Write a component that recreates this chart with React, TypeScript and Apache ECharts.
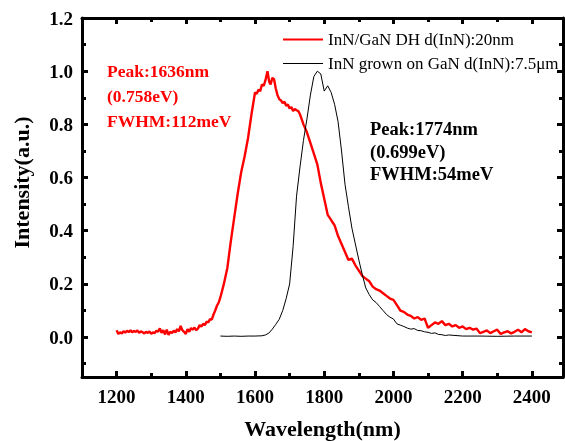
import React, { useEffect, useRef } from "react";
import * as echarts from "echarts";

// Red: InN/GaN DH d(InN):20nm  (wavelength nm, intensity a.u.)
const redWavelengths: number[] = [
  1200, 1205, 1210, 1215, 1220, 1225, 1230, 1235, 1240, 1245,
  1250, 1255, 1260, 1265, 1270, 1275, 1280, 1285, 1290, 1295,
  1300, 1305, 1310, 1315, 1320, 1325, 1330, 1335, 1340, 1345,
  1350, 1355, 1360, 1365, 1370, 1375, 1380, 1385, 1390, 1395,
  1400, 1405, 1410, 1415, 1420, 1425, 1430, 1435, 1440, 1445,
  1450, 1455, 1460, 1465, 1470, 1475, 1480, 1485, 1490, 1495,
  1500, 1510, 1520, 1530, 1540, 1550, 1560, 1570, 1580, 1590,
  1600, 1605, 1610, 1615, 1620, 1625, 1630, 1636, 1641, 1645,
  1650, 1655, 1660, 1665, 1670, 1675, 1680, 1685, 1690, 1695,
  1700, 1705, 1710, 1715, 1720, 1725, 1730, 1740, 1750, 1760,
  1770, 1780, 1790, 1800, 1810, 1815, 1820, 1825, 1830, 1840,
  1850, 1860, 1870, 1880, 1890, 1900, 1910, 1920, 1930, 1940,
  1950, 1960, 1970, 1980, 1990, 2000, 2010, 2020, 2030, 2040,
  2050, 2060, 2070, 2080, 2090, 2100, 2110, 2120, 2130, 2140,
  2150, 2160, 2170, 2180, 2190, 2200, 2210, 2220, 2230, 2240,
  2250, 2260, 2270, 2280, 2290, 2300, 2310, 2320, 2330, 2340,
  2350, 2360, 2370, 2380, 2390, 2400,
];
const redIntensity: number[] = [
  0.026, 0.012, 0.018, 0.014, 0.022, 0.017, 0.024, 0.019, 0.026, 0.018,
  0.023, 0.020, 0.025, 0.016, 0.022, 0.018, 0.014, 0.020, 0.016, 0.021,
  0.012, 0.018, 0.015, 0.024, 0.020, 0.033, 0.016, 0.026, 0.010, 0.028,
  0.008, 0.020, 0.015, 0.024, 0.018, 0.030, 0.022, 0.042, 0.026, 0.020,
  0.012, 0.030, 0.020, 0.034, 0.028, 0.036, 0.026, 0.032, 0.045, 0.040,
  0.050, 0.045, 0.058, 0.055, 0.068, 0.066, 0.085, 0.100, 0.118, 0.130,
  0.150, 0.200, 0.260, 0.360, 0.450, 0.540, 0.620, 0.680, 0.750, 0.840,
  0.920, 0.915, 0.930, 0.925, 0.950, 0.945, 0.965, 1.000, 0.960, 0.950,
  0.975, 0.970, 0.935, 0.910, 0.895, 0.890, 0.880, 0.885, 0.870, 0.875,
  0.860, 0.865, 0.850, 0.858, 0.853, 0.850, 0.838, 0.800, 0.770, 0.730,
  0.690, 0.650, 0.580, 0.520, 0.460, 0.450, 0.440, 0.430, 0.420, 0.380,
  0.350, 0.320, 0.290, 0.295, 0.270, 0.250, 0.230, 0.220, 0.210, 0.190,
  0.180, 0.175, 0.165, 0.155, 0.145, 0.140, 0.120, 0.100, 0.095, 0.085,
  0.080, 0.070, 0.075, 0.065, 0.070, 0.035, 0.045, 0.055, 0.050, 0.060,
  0.045, 0.050, 0.040, 0.045, 0.035, 0.040, 0.030, 0.035, 0.028, 0.032,
  0.015, 0.020, 0.025, 0.015, 0.022, 0.028, 0.012, 0.018, 0.022, 0.014,
  0.020, 0.028, 0.018, 0.030, 0.022, 0.018,
];

// Black: InN grown on GaN d(InN):7.5μm
const blackWavelengths: number[] = [
  1500, 1520, 1540, 1560, 1580, 1600, 1620, 1630, 1640, 1650,
  1660, 1670, 1680, 1690, 1700, 1710, 1720, 1730, 1740, 1750,
  1760, 1770, 1780, 1790, 1800, 1810, 1820, 1830, 1840, 1850,
  1860, 1870, 1880, 1890, 1900, 1910, 1920, 1930, 1940, 1950,
  1960, 1970, 1980, 1990, 2000, 2010, 2020, 2030, 2040, 2050,
  2060, 2070, 2080, 2090, 2100, 2110, 2120, 2130, 2140, 2150,
  2160, 2200, 2250, 2300, 2350, 2400,
];
const blackIntensity: number[] = [
  0.004, 0.003, 0.004, 0.003, 0.004, 0.004, 0.005, 0.008, 0.015, 0.030,
  0.048, 0.067, 0.100, 0.145, 0.200, 0.340, 0.530, 0.640, 0.740, 0.820,
  0.910, 0.980, 1.000, 0.990, 0.925, 0.945, 0.920, 0.875, 0.810, 0.700,
  0.575, 0.490, 0.410, 0.350, 0.290, 0.235, 0.185, 0.160, 0.140, 0.130,
  0.115, 0.100, 0.085, 0.075, 0.068, 0.050, 0.045, 0.040, 0.034, 0.030,
  0.032, 0.025, 0.024, 0.020, 0.018, 0.014, 0.016, 0.010, 0.009, 0.006,
  0.008, 0.004, 0.004, 0.003, 0.004, 0.004,
];

const seriesNames: string[] = [
  "InN/GaN DH d(InN):20nm",
  "InN grown on GaN d(InN):7.5\u03bcm",
];

const xMajorTicks: number[] = [1200, 1400, 1600, 1800, 2000, 2200, 2400];
const xMinorTicks: number[] = [1300, 1500, 1700, 1900, 2100, 2300];
const yMajorTicks: number[] = [0, 0.2, 0.4, 0.6, 0.8, 1.0, 1.2];
const yMinorTicks: number[] = [-0.1, 0.1, 0.3, 0.5, 0.7, 0.9, 1.1];

const redNote: string[] = ["Peak:1636nm", "(0.758eV)", "FWHM:112meV"];
const blackNote: string[] = ["Peak:1774nm", "(0.699eV)", "FWHM:54meV"];

const FONT = "Liberation Serif";
const X_MIN = 1100;
const X_MAX = 2490;
const Y_MIN = -0.15;
const Y_MAX = 1.2;

function xAxisDef(position: string, ticks: number[], len: number, labels: boolean, line: boolean, name?: string) {
  const ax: any = {
    type: "value",
    position,
    min: X_MIN,
    max: X_MAX,
    axisLine: { show: line, onZero: false, lineStyle: { color: "#000", width: 3 } },
    axisTick: { show: true, inside: true, length: len, customValues: ticks, lineStyle: { color: "#000", width: 3 } },
    axisLabel: labels
      ? { show: true, customValues: ticks, formatter: (v: number) => String(v), color: "#000", fontFamily: FONT, fontWeight: "bold", fontSize: 19, margin: 10 }
      : { show: false },
    splitLine: { show: false },
  };
  if (name) {
    ax.name = name;
    ax.nameLocation = "middle";
    ax.nameGap = 40;
    ax.nameTextStyle = { color: "#000", fontFamily: FONT, fontWeight: "bold", fontSize: 22 };
  }
  return ax;
}

function yAxisDef(position: string, ticks: number[], len: number, labels: boolean, line: boolean, name?: string) {
  const ax: any = {
    type: "value",
    position,
    min: Y_MIN,
    max: Y_MAX,
    axisLine: { show: line, onZero: false, lineStyle: { color: "#000", width: 3 } },
    axisTick: { show: true, inside: true, length: len, customValues: ticks, lineStyle: { color: "#000", width: 3 } },
    axisLabel: labels
      ? { show: true, customValues: ticks, formatter: (v: number) => v.toFixed(1), color: "#000", fontFamily: FONT, fontWeight: "bold", fontSize: 19, margin: 9 }
      : { show: false },
    splitLine: { show: false },
  };
  if (name) {
    ax.name = name;
    ax.nameLocation = "middle";
    ax.nameGap = 50;
    ax.nameTextStyle = { color: "#000", fontFamily: FONT, fontWeight: "bold", fontSize: 22, padding: [0, 0, 0, 30] };
  }
  return ax;
}

export default function App() {
  const ref = useRef<HTMLDivElement>(null);

  useEffect(() => {
    if (!ref.current) return;
    const chart = echarts.init(ref.current, undefined, { renderer: "svg" });
    const red = redWavelengths.map((w, i) => [w, redIntensity[i]]);
    const black = blackWavelengths.map((w, i) => [w, blackIntensity[i]]);

    chart.setOption({
      animation: false,
      grid: { left: 82, top: 18, right: 2, bottom: 64, outerBoundsMode: "none" },
      xAxis: [
        xAxisDef("bottom", xMajorTicks, 6, true, true, "Wavelength(nm)"),
        xAxisDef("bottom", xMinorTicks, 4, false, false),
        xAxisDef("top", xMajorTicks, 6, false, true),
        xAxisDef("top", xMinorTicks, 4, false, false),
      ],
      yAxis: [
        yAxisDef("left", yMajorTicks, 6, true, true, "Intensity(a.u.)"),
        yAxisDef("left", yMinorTicks, 4, false, false),
        yAxisDef("right", yMajorTicks, 6, false, true),
        yAxisDef("right", yMinorTicks, 4, false, false),
      ],
      legend: {
        orient: "vertical",
        left: 278,
        top: 26,
        itemWidth: 40,
        itemHeight: 14,
        itemGap: 7,
        textStyle: { color: "#000", fontFamily: FONT, fontSize: 17 },
        data: [
          { name: seriesNames[0], icon: "path://M0,0L40,0L40,2L0,2Z" },
          { name: seriesNames[1], icon: "path://M0,0L40,0L40,1L0,1Z" },
        ],
      },
      series: [
        {
          name: seriesNames[0],
          type: "line",
          data: red,
          xAxisIndex: 0,
          yAxisIndex: 0,
          symbol: "none",
          lineStyle: { color: "#ff0000", width: 2.4 },
          itemStyle: { color: "#ff0000" },
        },
        {
          name: seriesNames[1],
          type: "line",
          data: black,
          xAxisIndex: 0,
          yAxisIndex: 0,
          symbol: "none",
          lineStyle: { color: "#000", width: 1 },
          itemStyle: { color: "#000" },
        },
      ],
      graphic: [
        {
          type: "text",
          left: 107,
          top: 58,
          style: { text: redNote.join("\n"), fill: "#ff0000", font: `bold 17.5px "${FONT}"`, lineHeight: 25 },
        },
        {
          type: "text",
          left: 370,
          top: 118,
          style: { text: blackNote.join("\n"), fill: "#000", font: `bold 18.5px "${FONT}"`, lineHeight: 22.5 },
        },
      ],
    });
    return () => chart.dispose();
  }, []);

  return <div ref={ref} style={{ width: 565, height: 441, position: "fixed", left: 0, top: 0 }} />;
}
